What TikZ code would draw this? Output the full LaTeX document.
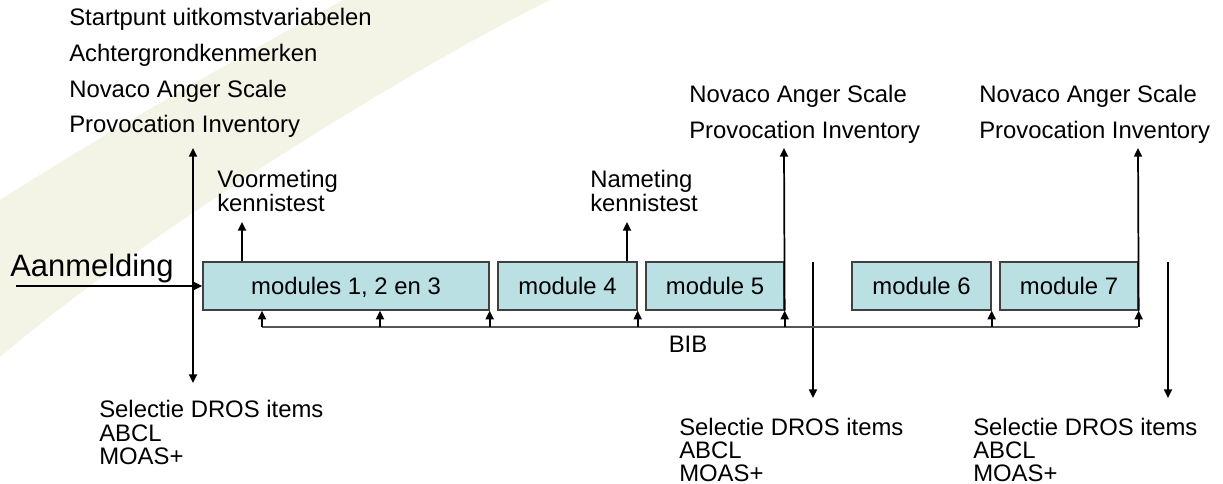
\documentclass[tikz,border=0pt]{standalone}
\usepackage{fontspec}
\setmainfont{Liberation Sans}
\usetikzlibrary{arrows.meta}
\definecolor{bandcol}{RGB}{243,243,230}
\definecolor{boxfill}{RGB}{186,224,228}
\definecolor{boxline}{RGB}{64,64,64}
\definecolor{bibcol}{RGB}{85,85,85}
\begin{document}
\begin{tikzpicture}[x=0.75pt,y=-0.75pt,
  txt/.style={anchor=base west, inner sep=0pt, font=\fontsize{17.9}{21}\selectfont},
  big/.style={anchor=base west, inner sep=0pt, font=\fontsize{23.2}{27}\selectfont},
  box/.style={draw=boxline, fill=boxfill, line width=1pt, minimum height=36pt, inner sep=0pt,
    text height=13pt, text depth=0pt, font=\fontsize{17.9}{21}\selectfont},
  conn/.style={line width=1.3pt, -{Triangle[width=6pt,length=6.5pt]}},
  twoway/.style={line width=1.3pt, {Triangle[width=6pt,length=6.5pt]}-{Triangle[width=6pt,length=6.5pt]}},
  bibline/.style={line width=1.3pt, draw=bibcol}]
\useasboundingbox (0,0) rectangle (1223,484);
% background band
\fill[bandcol] (0,200) .. controls (110,130) and (230,62) .. (343,0) -- (550,0)
  .. controls (420,64) and (155,225) .. (0,357) -- cycle;

% top-left texts
\node[txt] (t1) at (69,26) {Startpunt uitkomstvariabelen};
\node[txt] (t2) at (69,62) {Achtergrondkenmerken};
\node[txt] (t3) at (69,98) {Novaco Anger Scale};
\node[txt] (t4) at (69,133) {Provocation Inventory};

% top-right texts
\node[txt] (r1a) at (689,103) {Novaco Anger Scale};
\node[txt] (r1b) at (689,139) {Provocation Inventory};
\node[txt] (r2a) at (979,103) {Novaco Anger Scale};
\node[txt] (r2b) at (979,139) {Provocation Inventory};

% kennistest labels
\node[txt] (vm1) at (217,188) {Voormeting};
\node[txt] (vm2) at (217,212) {kennistest};
\node[txt] (nm1) at (590,188) {Nameting};
\node[txt] (nm2) at (590,212) {kennistest};

% Aanmelding
\node[big] (aan) at (10,277) {Aanmelding};

% module boxes
\node[box, minimum width=214.5pt] (m1) at (346,286) {modules 1, 2 en 3};
\node[box, minimum width=104.25pt] (m4) at (567.5,286) {module 4};
\node[box, minimum width=103.5pt] (m5) at (715,286) {module 5};
\node[box, minimum width=104.25pt] (m6) at (921.5,286) {module 6};
\node[box, minimum width=103.5pt] (m7) at (1069,286) {module 7};

% bottom texts
\node[txt] (s1a) at (99,417) {Selectie DROS items};
\node[txt] (s1b) at (99,441) {ABCL};
\node[txt] (s1c) at (99,464) {MOAS+};
\node[txt] (s2a) at (679,435) {Selectie DROS items};
\node[txt] (s2b) at (679,458) {ABCL};
\node[txt] (s2c) at (679,481) {MOAS+};
\node[txt] (s3a) at (973,435) {Selectie DROS items};
\node[txt] (s3b) at (973,458) {ABCL};
\node[txt] (s3c) at (973,481) {MOAS+};

\node[txt, anchor=base] (bib) at (688,352) {BIB};

% coordinates
\coordinate (aStart) at (16,286);
\coordinate (vTop) at (193,148);
\coordinate (vBot) at (193,383);
\coordinate (voorTip) at (242,222);
\coordinate (naTip) at (627,222);
\coordinate (m5Tip) at (784,148);
\coordinate (m7Tip) at (1138,148);
\coordinate (d1Top) at (813,262);
\coordinate (d1Bot) at (813,398);
\coordinate (d2Top) at (1168,262);
\coordinate (d2Bot) at (1168,398);
\coordinate (bibL) at (262,327);
\coordinate (bib2) at (380,327);
\coordinate (bibR) at (1138,327);

% connectors
\draw[twoway] (vTop) -- (vBot);
\draw[conn] (aStart) -- (m1.west);
\draw[conn] (m1.north -| voorTip) -- (voorTip);
\draw[conn] (m4.north -| naTip) -- (naTip);
\draw[conn] (m5.south east) -- (m5Tip);
\draw[conn] (m7.south east) -- (m7Tip);
\draw[conn] (d1Top) -- (d1Bot);
\draw[conn] (d2Top) -- (d2Bot);

% BIB line and feedback arrows
\draw[bibline] (bibL) -- (bibR);
\draw[conn] (bibL) -- (bibL |- m1.south);
\draw[conn] (bib2) -- (bib2 |- m1.south);
\draw[conn] (m1.south east |- bibL) -- (m1.south east);
\draw[conn] (m4.south east |- bibL) -- (m4.south east);
\draw[conn] (m5.south east |- bibL) -- (m5.south east);
\draw[conn] (m6.south east |- bibL) -- (m6.south east);
\draw[conn] (m7.south east |- bibL) -- (m7.south east);
\end{tikzpicture}
\end{document}
